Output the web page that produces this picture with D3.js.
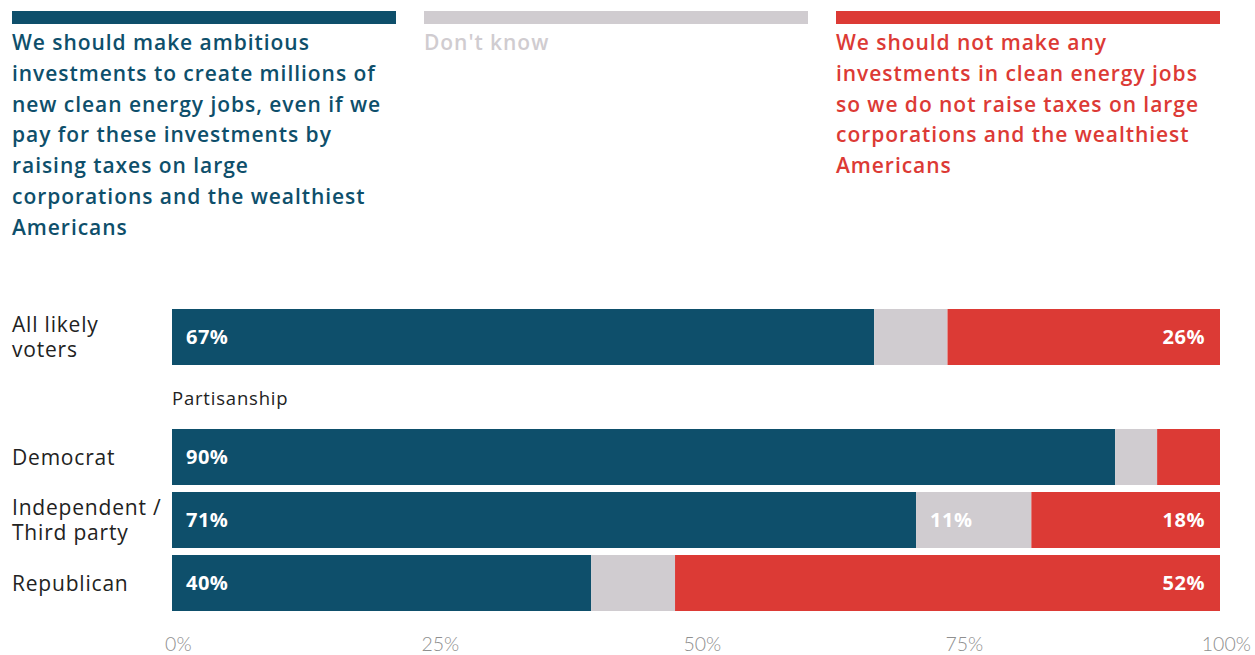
<!DOCTYPE html>
<html>
<head>
<meta charset="utf-8">
<script src="https://cdn.jsdelivr.net/npm/d3@7"></script>
<style>
  body { margin: 0; background: #fff; }
  svg { font-family: "Open Sans", Lato, sans-serif; }
</style>
</head>
<body>
<svg id="chart" width="1255" height="655"></svg>
<script>
// data
var categories = ["All likely voters", "Democrat", "Independent / Third party", "Republican"];
var groupOf = ["all", "party", "party", "party"];
var support = [67, 90, 71, 40];
var dontKnow = [7, 4, 11, 8];
var oppose = [26, 6, 18, 52];
var seriesNames = ["support", "dontKnow", "oppose"];
var seriesColors = ["#0e4f6b", "#d0ccd0", "#dc3a35"];
var tickValues = [0, 25, 50, 75, 100];

// legend text, one line per entry
var legendLines = [
  ["We should make ambitious", "investments to create millions of", "new clean energy jobs, even if we",
   "pay for these investments by", "raising taxes on large", "corporations and the wealthiest", "Americans"],
  ["Don't know"],
  ["We should not make any", "investments in clean energy jobs", "so we do not raise taxes on large",
   "corporations and the wealthiest", "Americans"]
];

// row labels split into lines
var labelLines = {
  "All likely voters": ["All likely", "voters"],
  "Democrat": ["Democrat"],
  "Independent / Third party": ["Independent /", "Third party"],
  "Republican": ["Republican"]
};

var svg = d3.select("#chart");

var x = d3.scaleLinear().domain([0, 100]).range([172, 1220]);

// rows on a band scale, the partisanship group pushed down by a gap
var y = d3.scaleBand().domain(categories).range([309, 309 + 4 * 63 - 7]).paddingInner(7 / 63).paddingOuter(0);
var groupGap = 57;
function rowY(d, i) { return y(d) + (groupOf[i] == "party" ? groupGap : 0); }

var rows = categories.map(function(c, i) {
  return { cat: c, i: i, support: support[i], dontKnow: dontKnow[i], oppose: oppose[i] };
});
var stacked = d3.stack().keys(seriesNames)(rows);

// legend
var legendX = d3.scaleBand().domain(seriesNames).range([12, 1220]).paddingInner(28 / 412).paddingOuter(0);
var legend = svg.append("g").attr("class", "legend");
seriesNames.forEach(function(s, k) {
  var lx = legendX(s);
  legend.append("rect")
    .attr("x", lx).attr("y", 11)
    .attr("width", legendX.bandwidth()).attr("height", 13)
    .attr("fill", seriesColors[k]);
  var t = legend.append("text")
    .attr("fill", seriesColors[k])
    .attr("font-size", "21px")
    .attr("font-weight", 600)
    .attr("letter-spacing", "0.95px");
  legendLines[k].forEach(function(line, j) {
    t.append("tspan").attr("x", lx).attr("y", 50 + j * 30.8).text(line);
  });
});

// bars
var layer = svg.append("g").selectAll("g")
  .data(stacked)
  .enter().append("g")
  .attr("fill", function(d, k) { return seriesColors[k]; });

layer.selectAll("rect")
  .data(function(d) { return d; })
  .enter().append("rect")
  .attr("x", function(d) { return x(d[0]); })
  .attr("width", function(d) { return x(d[1]) - x(d[0]); })
  .attr("y", function(d, i) { return rowY(categories[i], i); })
  .attr("height", y.bandwidth());

// value labels (only segments of 10% or more)
stacked.forEach(function(series, k) {
  svg.append("g").selectAll("text")
    .data(series.filter(function(d) { return d[1] - d[0] >= 10; }))
    .enter().append("text")
    .attr("x", function(d) { return k == 2 ? x(d[1]) - 15 : x(d[0]) + 14; })
    .attr("y", function(d) { return rowY(d.data.cat, d.data.i) + y.bandwidth() / 2; })
    .attr("dy", "0.36em")
    .attr("text-anchor", k == 2 ? "end" : "start")
    .attr("fill", "#fff")
    .attr("font-size", "20px")
    .attr("font-weight", 700)
    .attr("letter-spacing", "0.5px")
    .text(function(d) { return (d[1] - d[0]) + "%"; });
});

// row labels
categories.forEach(function(c, i) {
  var lines = labelLines[c];
  var cy = rowY(c, i) + y.bandwidth() / 2;
  var t = svg.append("text")
    .attr("fill", "#222")
    .attr("font-size", "21px")
    .attr("letter-spacing", "0.8px");
  lines.forEach(function(line, j) {
    t.append("tspan")
      .attr("x", 12)
      .attr("y", cy + (j - (lines.length - 1) / 2) * 25)
      .attr("dy", "0.36em")
      .text(line);
  });
});

// group heading
svg.append("text")
  .attr("x", x(0))
  .attr("y", 405)
  .attr("fill", "#222")
  .attr("font-size", "18.5px")
  .attr("letter-spacing", "0.8px")
  .text("Partisanship");

// x axis (labels only)
var xAxis = d3.axisBottom(x)
  .tickValues(tickValues)
  .tickSize(0)
  .tickFormat(function(d) { return d + "%"; });
var ax = svg.append("g")
  .attr("transform", "translate(0,634)")
  .call(xAxis);
ax.select(".domain").remove();
ax.selectAll("text")
  .attr("font-family", "Lato, sans-serif")
  .attr("font-size", "19.5px")
  .attr("font-weight", 300)
  .attr("fill", "#8f8f8f")
  .attr("dx", "0.3em");
</script>
</body>
</html>
